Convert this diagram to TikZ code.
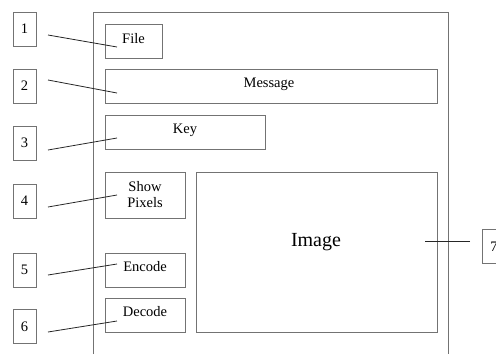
\documentclass[tikz,border=0pt]{standalone}
\usepackage{fontspec}
\setmainfont{Liberation Serif}
\begin{document}
\begin{tikzpicture}[x=1pt,y=-1pt,
  box/.style={draw=black!55,line width=0.9pt,inner sep=0pt,font=\fontsize{14.5}{16}\selectfont},
  numbox/.style={box,minimum width=23pt,minimum height=34pt},
  lead/.style={draw=black!85,line width=0.8pt}]
\useasboundingbox (0,0) rectangle (496,354);
% outer frame
\draw[draw=black!55,line width=0.9pt] (93,354) -- (93,12) -- (448,12) -- (448,354);
% widgets
\node[box,minimum width=57pt,minimum height=34pt] (file) at (133.5,41) {};
\node at (133.5,39) [font=\fontsize{14.5}{16}\selectfont] (filet) {File};
\node[box,minimum width=332pt,minimum height=34pt] (msg) at (271,86) {};
\node at (269,84) [font=\fontsize{14.5}{16}\selectfont] (msgt) {Message};
\node[box,minimum width=160pt,minimum height=34pt] (key) at (185,132) {};
\node at (185,130) [font=\fontsize{14.5}{16}\selectfont] (keyt) {Key};
\node[box,minimum width=80pt,minimum height=46pt] (show) at (145,195) {};
\node at (145,195) [font=\fontsize{14.5}{16}\selectfont,align=center] (showt) {Show\\Pixels};
\node[box,minimum width=80pt,minimum height=34pt] (enc) at (145,270) {};
\node at (145,267) [font=\fontsize{14.5}{16}\selectfont] (enct) {Encode};
\node[box,minimum width=80pt,minimum height=34pt] (dec) at (145,315) {};
\node at (145,312) [font=\fontsize{14.5}{16}\selectfont] (dect) {Decode};
\node[box,minimum width=241pt,minimum height=160pt] (img) at (316.5,252) {};
\node at (316,242) [font=\fontsize{20}{22}\selectfont] (imgt) {Image};
% number boxes
\node[numbox] (n1) at (24.5,29) {1};
\node[numbox] (n2) at (24.5,86) {2};
\node[numbox] (n3) at (24.5,143) {3};
\node[numbox] (n4) at (24.5,201) {4};
\node[numbox] (n5) at (24.5,270) {5};
\node[numbox] (n6) at (24.5,326.5) {6};
\node[numbox,anchor=west] (n7) at (482,246.5) {7};
% leader coordinates
\coordinate (a1) at (48,35);  \coordinate (b1) at (117,47);
\coordinate (a2) at (48,80);  \coordinate (b2) at (117,93);
\coordinate (a3) at (48,150); \coordinate (b3) at (117,138);
\coordinate (a4) at (48,207); \coordinate (b4) at (117,195);
\coordinate (a5) at (48,275); \coordinate (b5) at (117,264);
\coordinate (a6) at (48,332); \coordinate (b6) at (117,321);
\coordinate (a7) at (470,241); \coordinate (b7) at (425,241);
\foreach \i in {1,...,7} {\draw[lead] (a\i) -- (b\i);}
\end{tikzpicture}
\end{document}
